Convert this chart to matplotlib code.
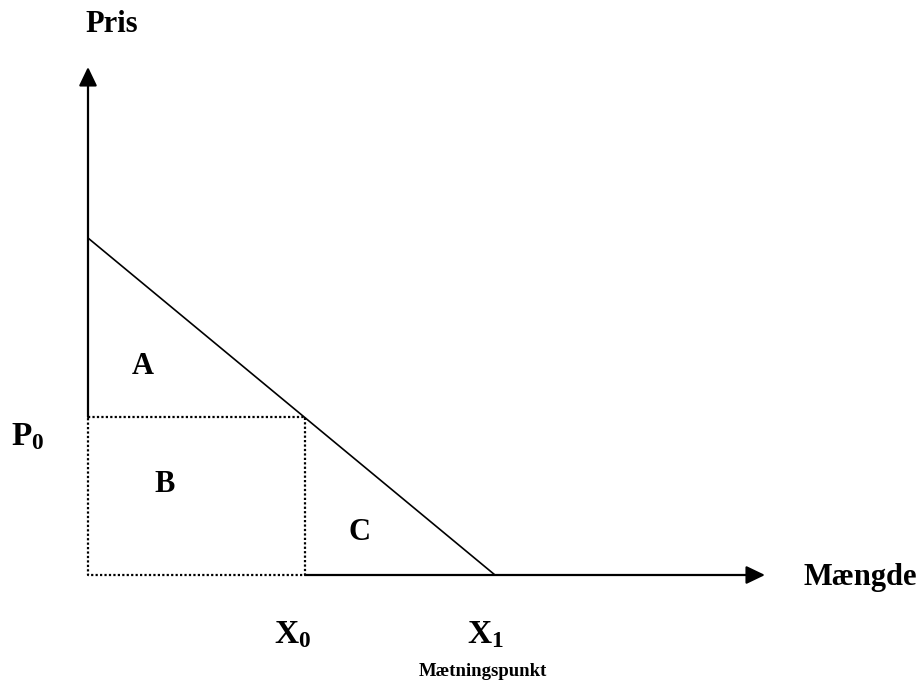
import matplotlib.pyplot as plt

plt.rcParams["font.family"] = ["Liberation Serif", "DejaVu Serif"]
plt.rcParams["mathtext.fontset"] = "custom"
plt.rcParams["mathtext.rm"] = "Liberation Serif:bold"
plt.rcParams["mathtext.bf"] = "Liberation Serif:bold"
plt.rcParams["mathtext.it"] = "Liberation Serif:bold"

# demand curve: quantity / price (pixel-like units, origin at the axes corner)
demand_q = [0, 407]
demand_p = [337, 0]
x0 = 217          # quantity at P0
p0 = 158          # price level P0
x_axis_end = 677
y_axis_end = 508

area_labels = ["A", "B", "C"]
area_q = [55, 77, 272]
area_p = [208, 90, 43]

fig = plt.figure(figsize=(9.19, 6.84), dpi=100)
ax = fig.add_axes([0, 0, 1, 1])
ax.set_xlim(-88, 831)
ax.set_ylim(-109, 575)
ax.axis("off")

# axes with arrows
arrow = dict(arrowstyle="-|>,head_length=0.52,head_width=0.25",
             mutation_scale=22, lw=1.6, color="black", shrinkA=0, shrinkB=0)
ax.annotate("", xy=(0, y_axis_end), xytext=(0, p0), arrowprops=arrow)
ax.annotate("", xy=(x_axis_end, 0), xytext=(x0, 0), arrowprops=arrow)

# demand line
ax.plot(demand_q, demand_p, color="black", lw=1.2, solid_capstyle="butt")

# dotted rectangle for P0 / X0
ax.plot([0, x0, x0, 0, 0], [p0, p0, 0, 0, p0], color="black", lw=1.6,
        linestyle=(0, (1, 1)))

bold = dict(fontweight="bold", ha="center", va="center", color="black")
ax.text(24, 550, "Pris", fontsize=22, **bold)
ax.text(772, -3, "Mængde", fontsize=22, **bold)
ax.text(-60, 138, r"$\mathbf{P_0}$", fontsize=24, **bold)
ax.text(205, -60, r"$\mathbf{X_0}$", fontsize=24, **bold)
ax.text(397, -60, r"$\mathbf{X_1}$", fontsize=24, **bold)
ax.text(395, -96, "Mætningspunkt", fontsize=13.5, **bold)

for lab, q, p in zip(area_labels, area_q, area_p):
    ax.text(q, p, lab, fontsize=22, **bold)

plt.savefig("out.png", dpi=100)
